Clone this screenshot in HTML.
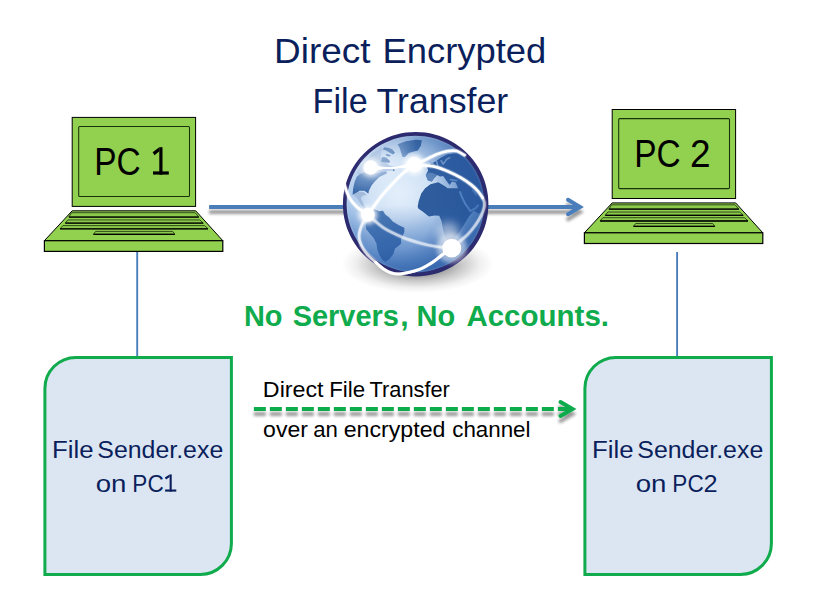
<!DOCTYPE html>
<html>
<head>
<meta charset="utf-8">
<title>Direct Encrypted File Transfer</title>
<style>
  html, body { margin: 0; padding: 0; background: #ffffff; }
  body { width: 831px; height: 607px; overflow: hidden; font-family: "Liberation Sans", sans-serif; }
  svg { display: block; }
  text { font-family: "Liberation Sans", sans-serif; }
</style>
</head>
<body>
<svg width="831" height="607" viewBox="0 0 831 607">
  <defs>
    <filter id="lineShadow" x="-5%" y="-300%" width="110%" height="800%">
      <feGaussianBlur in="SourceAlpha" stdDeviation="1.4" result="b"/>
      <feOffset in="b" dx="0" dy="4.9" result="o"/>
      <feComponentTransfer in="o" result="s"><feFuncA type="linear" slope="0.4"/></feComponentTransfer>
      <feMerge><feMergeNode in="s"/><feMergeNode in="SourceGraphic"/></feMerge>
    </filter>
    <filter id="blur6" x="-30%" y="-60%" width="160%" height="220%"><feGaussianBlur stdDeviation="5"/></filter>
    <filter id="blur5" x="-100%" y="-100%" width="300%" height="300%"><feGaussianBlur stdDeviation="4.5"/></filter>
    <filter id="blur2" x="-50%" y="-50%" width="200%" height="200%"><feGaussianBlur stdDeviation="2.2"/></filter>
    <filter id="blur1" x="-50%" y="-50%" width="200%" height="200%"><feGaussianBlur stdDeviation="0.9"/></filter>
    <filter id="blur05" x="-50%" y="-50%" width="200%" height="200%"><feGaussianBlur stdDeviation="0.6"/></filter>
    <filter id="blurLand" x="-10%" y="-10%" width="120%" height="120%"><feGaussianBlur stdDeviation="0.35"/></filter>

    <!-- laptop symbol (drawn at PC1 position) -->
    <g id="laptop">
      <rect x="72.2" y="117.4" width="123.4" height="89" fill="#92d050" stroke="#000" stroke-width="1"/>
      <rect x="78.7" y="126.5" width="110.8" height="70" rx="1" fill="none" stroke="#1a320a" stroke-width="1.05"/>
      <polygon points="72.2,210.8 195.7,210.8 222.8,240.7 44.4,240.7" fill="#92d050" stroke="#000" stroke-width="1" stroke-linejoin="miter"/>
      <rect x="44.4" y="240.7" width="178.4" height="10.7" fill="#92d050" stroke="#000" stroke-width="1.2"/>
      <g fill="#8bc84b" stroke="#1b2e0b" stroke-width="0.8">
        <polygon points="71.5,212.7 195,212.7 198.8,217 68.9,217"/>
        <polygon points="67.9,219.9 199.8,219.9 203.2,223.1 65.3,223.1"/>
        <polygon points="62.9,225.6 204.6,225.6 208,228.8 60.1,228.8"/>
        <polygon points="95.7,231.4 172.7,231.4 174.8,234.2 93.5,234.2"/>
      </g>
      <g stroke="#000" stroke-width="1.3" fill="none">
        <line x1="68.9" y1="217.1" x2="198.8" y2="217.1"/>
        <line x1="65.3" y1="223.2" x2="203.2" y2="223.2"/>
        <line x1="60.1" y1="228.9" x2="208" y2="228.9"/>
        <line x1="93.5" y1="234.3" x2="174.8" y2="234.3"/>
      </g>
    </g>

    <radialGradient id="ocean" cx="0.4" cy="0.4" r="0.72" fx="0.38" fy="0.42">
      <stop offset="0" stop-color="#e4effb"/>
      <stop offset="0.28" stop-color="#d2e3f6"/>
      <stop offset="0.52" stop-color="#a9c7ea"/>
      <stop offset="0.78" stop-color="#6d9ad3"/>
      <stop offset="1" stop-color="#4575ba"/>
    </radialGradient>
    <linearGradient id="namer" x1="0.8" y1="0" x2="0.2" y2="1">
      <stop offset="0" stop-color="#7d9fce"/>
      <stop offset="0.5" stop-color="#4b79b5"/>
      <stop offset="1" stop-color="#3b6aa9"/>
    </linearGradient>
    <linearGradient id="greenl" x1="1" y1="0" x2="0.1" y2="1">
      <stop offset="0" stop-color="#35649f"/>
      <stop offset="0.6" stop-color="#4674b2"/>
      <stop offset="1" stop-color="#6b92c7"/>
    </linearGradient>
    <linearGradient id="samer" x1="0.3" y1="0" x2="0.6" y2="1">
      <stop offset="0" stop-color="#4f7db8"/>
      <stop offset="1" stop-color="#2f5ea1"/>
    </linearGradient>

    <radialGradient id="shade" cx="0.3" cy="0.5" r="0.8">
      <stop offset="0.42" stop-color="#1f4f96" stop-opacity="0"/>
      <stop offset="0.75" stop-color="#22529a" stop-opacity="0.45"/>
      <stop offset="1" stop-color="#1f4f96" stop-opacity="0.7"/>
    </radialGradient>
    <radialGradient id="gloss" cx="0.5" cy="0.5" r="0.5">
      <stop offset="0" stop-color="#fff" stop-opacity="0.3"/>
      <stop offset="0.6" stop-color="#fff" stop-opacity="0.18"/>
      <stop offset="1" stop-color="#fff" stop-opacity="0"/>
    </radialGradient>
    <radialGradient id="floor" cx="0.5" cy="0.5" r="0.5">
      <stop offset="0" stop-color="#000" stop-opacity="0.5"/>
      <stop offset="0.35" stop-color="#000" stop-opacity="0.4"/>
      <stop offset="0.6" stop-color="#000" stop-opacity="0.2"/>
      <stop offset="0.82" stop-color="#000" stop-opacity="0.06"/>
      <stop offset="1" stop-color="#000" stop-opacity="0"/>
    </radialGradient>
    <linearGradient id="bottomShade" x1="0" y1="0" x2="0" y2="1">
      <stop offset="0" stop-color="#3468b2" stop-opacity="0"/>
      <stop offset="0.45" stop-color="#3468b2" stop-opacity="0.38"/>
      <stop offset="1" stop-color="#2f62ac" stop-opacity="0.7"/>
    </linearGradient>
    <clipPath id="globeClip"><circle cx="416" cy="203.9" r="71.6"/></clipPath>
  </defs>

  <rect width="831" height="607" fill="#ffffff"/>



  <!-- connector PC1 -> PC2 (behind the globe) -->
  <g filter="url(#lineShadow)">
    <line x1="209.1" y1="207" x2="580" y2="207" stroke="#4a7ebb" stroke-width="3.9"/>
    <polyline points="568,199.8 580,207 568,214.2" fill="none" stroke="#4a7ebb" stroke-width="4" stroke-linecap="round" stroke-linejoin="miter" stroke-miterlimit="10"/>
  </g>


  <!-- globe -->
  <g id="globe">
    <!-- drop shadow on the floor -->
    <ellipse cx="417.5" cy="264" rx="76" ry="29" fill="url(#floor)"/>
    <g transform="translate(415.65,204.2) scale(0.99931,0.99176) translate(-416,-203.9)">
    <circle cx="416" cy="203.9" r="71.5" fill="url(#ocean)"/>
    <g clip-path="url(#globeClip)">
      <g filter="url(#blurLand)">
        <!-- Greenland -->
        <path d="M397.9,143.4 L406.3,140.4 L416.2,139 L422.2,139.5 L421.2,144.9 L418.2,149.8 L414.2,150.8 L409.3,152.3 L405.3,156.3 L402.9,156.3 L401.4,151.8 L399.9,146.9 Z" fill="url(#greenl)"/>
        <!-- Canada (light, under the glow) -->
        <path d="M383,146.5 L372.9,152.5 L362.5,163.5 L356.5,174 L359.8,173.6 L364.8,171.6 L369.7,173.1 L377.6,172.1 L386.5,170.6 L392.5,170 L394.5,166.5 L390,164.9 L384,160 L381,156 L382,150 Z" fill="#9fb9dc" opacity="0.8"/>
        <!-- Arctic islands -->
        <path d="M384.6,146.4 L388.5,146.9 L392.5,148.4 L395.4,151.8 L393.5,153.8 L389.5,151.8 L386.5,149.8 L383.1,148.8 Z" fill="#4a78b4"/>
        <path d="M386,153 L389.5,153.8 L391.5,155.4 L388.5,155.9 L386.5,154.8 Z" fill="#5580b9"/>
        <path d="M382.6,156.3 L386.5,156.8 L390.5,160.7 L389.5,162.2 L384.6,161.7 L381.1,161.2 Z" fill="#5a84bc"/>
        <circle cx="394" cy="169.6" r="0.9" fill="#3f6eac"/>
        <!-- USA (darker) -->
        <path d="M359.8,173.6 L364.8,171.6 L369.7,173.1 L377.6,172.1 L386.5,170.6 L387.5,172.6 L379.6,176.5 L374.7,181.5 L371.7,185.4 L369.2,190.4 L368.7,193.4 L364.8,190.4 L359.8,190.4 L355.9,193.4 L352.9,194.3 L353.4,188.4 L354.9,181.5 L356.9,176.5 Z" fill="url(#namer)"/>
        <!-- Central America -->
        <path d="M353.5,194 L358,191.5 L364,191.5 L367,194.5 L363,195.5 L361,198 L364.5,205 L367.5,210.5 L364,208 L359.5,201.5 L356.5,197 Z" fill="#a2badb"/>
        <!-- South America -->
        <path d="M374.0,208.7 L379.8,211.0 L383.3,210.4 L385.6,214.4 L389.6,217.3 L393.1,221.3 L398.8,224.8 L404.6,227.7 L404.8,231.7 L403.0,236.0 L401.2,239.8 L401.7,243.3 L399.4,245.6 L395.4,248.5 L393.7,254.2 L389.6,259.4 L385.6,262.3 L382.7,260.0 L379.8,255.4 L377.5,249.6 L376.9,243.8 L374.0,238.1 L370.0,233.5 L366.5,228.8 L366.0,224.8 L367.7,221.9 L370.0,215.0 Z" fill="url(#samer)"/>
        <!-- Eurasia -->
        <path d="M426.2,174.5 L428.5,170 L427.5,166.5 L431,163.5 L436,160.5 L441,157 L448,153.6 L457,152.6 L465,155.5 L475,150 L500,150 L500,215 L478,213 L474,210 L466,205 L460,195 L458,186.5 L456,182 L452.5,181 L450,184.5 L447,180.5 L443.5,175.5 L440.5,176 L437.4,174.5 L434.8,177.2 L432.1,181.1 L428.2,179.8 Z" fill="#3060a4"/>
        <!-- Iberia lighter -->
        <path d="M426.2,174.5 L428.2,179.8 L432.1,181.1 L434.8,177.2 L437.4,174.5 L433,172.5 L429,172 Z" fill="#5d86bc"/>
        <!-- Africa -->
        <path d="M430.8,183.8 L425.5,187.7 L421.6,193 L419,200.9 L418,206.5 L418.9,208.5 L423.3,211.4 L429.3,216.3 L435,215.2 L439.6,215.6 L441.9,220.8 L443.4,229.7 L445.6,237.1 L448.6,240.8 L452,243 L454.5,238.8 L459.7,231.9 L464.9,223.7 L469.3,216.3 L475.2,208.9 L470,206 L462,192 L460,186.5 L458.5,187.7 L448,187.7 L445.3,185.7 L438.7,181.8 Z" fill="#2d5b9d"/>
        <!-- Indian ocean / east: slightly lighter than land -->
        <!-- small seas -->
        <path d="M460.5,191.7 L462.4,196.9 L465.7,203.5 L469,208.1 L470.6,210.8 L476,208 L478.5,205" fill="none" stroke="#6496d6" stroke-width="2.1" stroke-linecap="round" stroke-linejoin="round"/>
        <path d="M473.2,189.9 L476.8,194.2" fill="none" stroke="#5c8ed0" stroke-width="2" stroke-linecap="round"/>
        <path d="M430.5,161 L433.5,163.2 M436.3,158.5 L438,164.5 M441.5,160 L443.5,163.5 L447,158.5 L450,157" fill="none" stroke="#9dbde4" stroke-width="1.6" stroke-linejoin="round" stroke-linecap="round" opacity="0.8"/>
        <path d="M451,179.2 L457,180.2" fill="none" stroke="#6e99d0" stroke-width="1.8" stroke-linecap="round"/>
        <path d="M462,176.5 L464.5,181" fill="none" stroke="#5586c8" stroke-width="1.5" stroke-linecap="round"/>
      </g>
      <!-- darker shading on right / bottom -->
      <rect x="340" y="205" width="150" height="75" fill="url(#bottomShade)"/>
      <circle cx="416" cy="203.9" r="72" fill="url(#shade)"/>
      <!-- glossy highlight on the upper-left -->
      <ellipse cx="381" cy="160" rx="42" ry="22" fill="url(#gloss)" transform="rotate(-38 381 160)"/>
      <circle cx="448.5" cy="233" r="11" fill="#fff" opacity="0.5" filter="url(#blur5)"/>
      <!-- inner rim light -->
      <circle cx="416" cy="203.9" r="69.3" fill="none" stroke="#fff" stroke-width="1.6" opacity="0.3" filter="url(#blur1)"/>
    </g>
    <!-- ring -->
    <path fill-rule="evenodd" fill="#2c2b70" d="M416,131.1 a72.8,72.8 0 1 0 0.01,0 Z M415.75,134.85 a68.85,68.85 0 1 0 0.01,0 Z"/>
    <g fill="none" stroke="#fff" stroke-linecap="round" stroke-width="2.7">
      <!-- arcs -->
      <path d="M371,162.6 Q393,172.2 414.7,159.4 L414.7,168.6 Q393,165.2 371,171.2 Z" fill="#fff" stroke="none" opacity="0.92"/>
      <path id="a1" stroke-width="1.4" d="M371.0,166.9 C374.7,167.0 385.7,168.1 393.0,167.6 C400.3,167.1 411.1,164.6 414.7,164.0"/>
      <path id="a2" d="M414.7,164.0 C416.5,163.2 421.7,160.9 425.5,159.2 C429.3,157.5 433.6,155.1 437.4,153.6 C441.1,152.1 444.7,150.9 448.0,150.4 C451.3,149.9 454.4,149.6 457.2,150.3 C460.0,151.0 463.7,153.8 465.0,154.5"/>
      <path id="a3" d="M414.7,164.0 C418.1,164.3 429.2,164.9 434.8,166.0 C440.4,167.1 443.6,168.7 448.0,170.6 C452.4,172.5 457.2,174.9 461.1,177.2 C465.1,179.5 468.8,182.1 471.7,184.4 C474.6,186.7 476.6,188.8 478.5,191.0 C480.4,193.2 482.2,196.4 483.0,197.5"/>
      <path id="a4" stroke-width="3.1" d="M452.3,248.2 C450.9,249.2 446.3,252.2 443.8,254.1 C441.3,255.9 439.5,257.6 437.1,259.3 C434.8,261.0 432.2,262.9 429.7,264.5 C427.2,266.1 424.8,267.5 422.3,268.6 C419.8,269.7 417.3,270.4 414.8,271.2 C412.3,271.9 410.0,272.6 407.4,273.1 C404.8,273.6 401.7,274.3 399.0,274.3 C396.3,274.3 393.6,273.9 391.0,273.0 C388.4,272.1 386.0,270.8 383.5,269.0 C381.0,267.2 377.2,263.6 376.0,262.5"/>
      <path id="a5" opacity="0.62" d="M368.2,214.6 C370.9,216.8 378.7,224.4 384.4,228.1 C390.1,231.8 396.3,234.5 402.2,237.0 C408.1,239.5 414.4,241.4 420.0,243.0 C425.6,244.6 430.6,245.7 436.0,246.6 C441.4,247.5 449.6,247.9 452.3,248.2"/>
      <path id="a6" d="M414.7,164.0 C412.8,165.5 407.0,169.6 403.3,172.8 C399.6,176.0 396.2,179.7 392.7,183.4 C389.2,187.1 385.3,191.4 382.2,195.2 C379.1,199.0 376.6,202.8 374.3,206.0 C372.0,209.2 369.2,213.2 368.2,214.6"/>
      <path id="a7" d="M344.8,184.5 C345.5,186.5 347.2,192.8 349.2,196.5 C351.2,200.2 353.8,203.5 357.0,206.5 C360.2,209.5 366.3,213.2 368.2,214.6"/>
      <path id="a8" d="M483.0,197.5 C483.3,198.3 484.7,200.8 484.9,202.5 C485.1,204.2 485.0,205.8 484.4,208.0 C483.8,210.2 482.8,212.8 481.5,215.5 C480.2,218.2 478.8,220.8 476.5,224.0 C474.2,227.2 472.0,230.5 468.0,234.5 C464.0,238.5 454.9,245.9 452.3,248.2" opacity="0.6"/>
      <path id="a9" d="M376.0,262.5 C374.8,261.4 371.1,258.2 369.0,256.0 C366.9,253.8 364.9,251.3 363.5,249.0 C362.1,246.7 361.0,244.2 360.3,242.0 C359.6,239.8 359.4,238.1 359.4,236.0 C359.4,233.9 359.8,231.9 360.5,229.5 C361.2,227.1 362.4,224.3 363.7,221.8 C365.0,219.3 367.4,215.8 368.2,214.6" opacity="0.75"/>
    </g>
    <g fill="none" stroke="#fff" stroke-linecap="round" stroke-width="4.6" opacity="0.32" filter="url(#blur05)">
      <use href="#a1"/><use href="#a2"/><use href="#a3"/><use href="#a4"/><use href="#a5"/><use href="#a6"/><use href="#a7"/><use href="#a8"/><use href="#a9"/>
    </g>
    <!-- glowing nodes -->
    <g fill="#fff">
      <circle cx="371" cy="166.9" r="9.5" opacity="0.7" filter="url(#blur2)"/>
      <circle cx="414.7" cy="164" r="10.5" opacity="0.8" filter="url(#blur2)"/>
      <circle cx="368.2" cy="214.6" r="9.5" opacity="0.8" filter="url(#blur2)"/>
      <circle cx="452.1" cy="248.2" r="15" opacity="0.5" filter="url(#blur2)"/>
      <circle cx="371" cy="166.9" r="7.2" filter="url(#blur05)"/>
      <circle cx="414.7" cy="164" r="7.7" filter="url(#blur05)"/>
      <circle cx="368.2" cy="214.6" r="7" filter="url(#blur05)"/>
      <circle cx="452.1" cy="248.2" r="9.5"/>
    </g>
  </g>
    </g>
  </g>

  <!-- vertical connectors -->
  <line x1="137.2" y1="251.5" x2="137.2" y2="357" stroke="#4a7ebb" stroke-width="1.9"/>
  <line x1="677.1" y1="252" x2="677.1" y2="357" stroke="#4a7ebb" stroke-width="1.9"/>

  <!-- laptops -->
  <use href="#laptop"/>
  <use href="#laptop" transform="translate(540,-7.9)"/>

  <!-- process boxes -->
  <path d="M75.9,357.4 H231.4 V543.5 A31,31 0 0 1 200.4,574.5 H44.9 V388.4 A31,31 0 0 1 75.9,357.4 Z" fill="#dce6f2" stroke="#0fab4c" stroke-width="3"/>
  <path d="M615.9,357.4 H771.4 V543.5 A31,31 0 0 1 740.4,574.5 H584.9 V388.4 A31,31 0 0 1 615.9,357.4 Z" fill="#dce6f2" stroke="#0fab4c" stroke-width="3"/>

  <!-- dashed green arrow -->
  <g filter="url(#lineShadow)">
    <line x1="253.85" y1="408.95" x2="572" y2="408.95" stroke="#0fab4c" stroke-width="4" stroke-dasharray="12 4"/>
    <polyline points="560.5,402 572.5,408.95 560.5,415.9" fill="none" stroke="#0fab4c" stroke-width="4" stroke-linecap="round" stroke-linejoin="miter" stroke-miterlimit="10"/>
  </g>



  <!-- text -->
  <g id="labels">
    <text x="274.07" y="62.5" font-size="35.4" fill="#0b1f5c" textLength="96.49" lengthAdjust="spacingAndGlyphs">Direct</text>
    <text x="382.41" y="62.5" font-size="35.4" fill="#0b1f5c" textLength="163.94" lengthAdjust="spacingAndGlyphs">Encrypted</text>
    <text x="312.59" y="112.7" font-size="35.4" fill="#0b1f5c" textLength="55.06" lengthAdjust="spacingAndGlyphs">File</text>
    <text x="376.59" y="112.7" font-size="35.4" fill="#0b1f5c" textLength="131.6" lengthAdjust="spacingAndGlyphs">Transfer</text>
    <text x="94.26" y="174.6" font-size="39.6" fill="#000" textLength="46.47" lengthAdjust="spacingAndGlyphs">PC</text>
    <text x="634.26" y="166.6" font-size="39.6" fill="#000" textLength="46.47" lengthAdjust="spacingAndGlyphs">PC</text>
    <text x="690.09" y="166.6" font-size="39.6" fill="#000" textLength="20.59" lengthAdjust="spacingAndGlyphs">2</text>
    <text x="243.96" y="326.3" font-size="30.2" font-weight="bold" fill="#0fab4c" textLength="38.58" lengthAdjust="spacingAndGlyphs">No</text>
    <text x="292.65" y="326.3" font-size="30.2" font-weight="bold" fill="#0fab4c" textLength="106.34" lengthAdjust="spacingAndGlyphs">Servers</text>
    <text x="400.33" y="326.3" font-size="30.2" font-weight="bold" fill="#0fab4c">,</text>
    <text x="416.56" y="326.3" font-size="30.2" font-weight="bold" fill="#0fab4c" textLength="38.64" lengthAdjust="spacingAndGlyphs">No</text>
    <text x="466.39" y="326.3" font-size="30.2" font-weight="bold" fill="#0fab4c" textLength="142.65" lengthAdjust="spacingAndGlyphs">Accounts.</text>
    <text x="262.89" y="396.6" font-size="22" fill="#000" textLength="60.69" lengthAdjust="spacingAndGlyphs">Direct</text>
    <text x="329.17" y="396.6" font-size="22" fill="#000" textLength="35.91" lengthAdjust="spacingAndGlyphs">File</text>
    <text x="369.5" y="396.6" font-size="22" fill="#000" textLength="80.38" lengthAdjust="spacingAndGlyphs">Transfer</text>
    <text x="263.1" y="436.5" font-size="22" fill="#000" textLength="44.8" lengthAdjust="spacingAndGlyphs">over</text>
    <text x="313.22" y="436.5" font-size="22" fill="#000" textLength="24.67" lengthAdjust="spacingAndGlyphs">an</text>
    <text x="343.69" y="436.5" font-size="22" fill="#000" textLength="101.8" lengthAdjust="spacingAndGlyphs">encrypted</text>
    <text x="452.21" y="436.5" font-size="22" fill="#000" textLength="78.3" lengthAdjust="spacingAndGlyphs">channel</text>
    <text x="52.08" y="457.6" font-size="24.8" fill="#0b1f5c" textLength="41.55" lengthAdjust="spacingAndGlyphs">File</text>
    <text x="97.34" y="457.6" font-size="24.8" fill="#0b1f5c" textLength="125.9" lengthAdjust="spacingAndGlyphs">Sender.exe</text>
    <text x="95.68" y="491.6" font-size="24.8" fill="#0b1f5c" textLength="30.74" lengthAdjust="spacingAndGlyphs">on</text>
    <text x="132.35" y="491.6" font-size="24.8" fill="#0b1f5c" textLength="31.34" lengthAdjust="spacingAndGlyphs">PC</text>
    <text x="592.08" y="457.6" font-size="24.8" fill="#0b1f5c" textLength="41.55" lengthAdjust="spacingAndGlyphs">File</text>
    <text x="637.34" y="457.6" font-size="24.8" fill="#0b1f5c" textLength="125.9" lengthAdjust="spacingAndGlyphs">Sender.exe</text>
    <text x="635.68" y="491.6" font-size="24.8" fill="#0b1f5c" textLength="30.74" lengthAdjust="spacingAndGlyphs">on</text>
    <text x="672.35" y="491.6" font-size="24.8" fill="#0b1f5c" textLength="31.34" lengthAdjust="spacingAndGlyphs">PC</text>
    <text x="703.53" y="491.6" font-size="24.8" fill="#0b1f5c" textLength="14.09" lengthAdjust="spacingAndGlyphs">2</text>
    <g fill="#000" stroke="none"><rect x="153.00" y="171.40" width="15.80" height="3.20"/><rect x="159.30" y="147.20" width="3.20" height="27.40"/><polygon points="159.30,147.20 159.40,151.20 154.56,155.24 152.64,152.20"/></g>
    <g fill="#0b1f5c" stroke="none"><rect x="165.10" y="489.50" width="11.20" height="2.10"/><rect x="169.62" y="474.40" width="2.10" height="17.20"/><polygon points="169.62,474.40 169.72,477.02 166.06,479.52 164.80,477.52"/></g>
  </g>
</svg>
</body>
</html>
